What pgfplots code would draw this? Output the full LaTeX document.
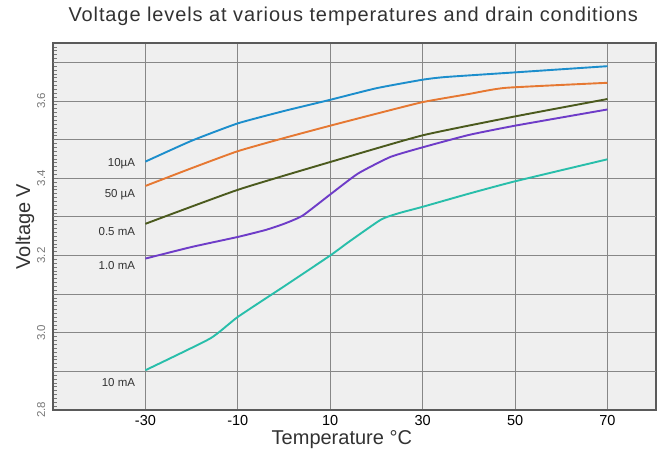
\documentclass[border=0pt]{standalone}
\usepackage{fontspec}
\setmainfont{Liberation Sans}
\usepackage{pgfplots}
\pgfplotsset{compat=1.18}

\definecolor{bggray}{RGB}{239,239,239}
\definecolor{gridgray}{RGB}{135,135,135}
\definecolor{framegray}{RGB}{90,90,90}
\definecolor{tickgray}{RGB}{120,120,120}
\definecolor{txtgray}{RGB}{50,50,50}
\definecolor{cA}{RGB}{28,142,204}
\definecolor{cB}{RGB}{230,120,50}
\definecolor{cC}{RGB}{75,90,30}
\definecolor{cD}{RGB}{110,60,200}
\definecolor{cE}{RGB}{40,190,170}

\tikzset{lbl/.style={anchor=east, font=\fontsize{11.5}{12}\selectfont, text=txtgray, inner sep=0pt}}

\begin{document}
\begin{tikzpicture}
\useasboundingbox (-53pt,-51pt) rectangle (605pt,410pt);
\begin{axis}[
  at={(0pt,0pt)}, anchor=south west,
  scale only axis,
  width=603pt, height=367pt,
  xmin=-50, xmax=80.5,
  ymin=2.8, ymax=3.75,
  axis background/.style={fill=bggray},
  axis line style={draw=framegray, line width=1.2pt},
  grid=major,
  major grid style={draw=gridgray, line width=0.9pt},
  xtick={-30,-10,10,30,50,70},
  xtick style={draw=none},
  ytick={2.8,3.0,3.2,3.4,3.6},
  minor ytick={2.8,2.81,...,3.75},
  ytick pos=left,
  tick align=inside,
  minor tick length=4pt,
  major tick length=5pt,
  ytick style={draw=tickgray, line width=0.7pt},
  extra y ticks={2.9,3.1,3.3,3.5,3.7},
  extra y tick labels={},
  extra y tick style={grid=major},
  /pgf/number format/assume math mode=true,
  xticklabel style={font=\fontsize{14.5}{16}\selectfont, text=black, yshift=-2pt},
  yticklabel style={font=\fontsize{11.5}{12}\selectfont, text=tickgray, rotate=90, anchor=south,
    inner ysep=7.5pt,
    /pgf/number format/.cd, fixed, fixed zerofill, precision=1},
  title={Voltage levels at various temperatures and drain conditions},
  every axis title/.style={at={(0.498,1.0736)}, anchor=center,
    font=\addfontfeature{LetterSpace=4.5}\fontsize{20}{22}\selectfont, text=txtgray},
  xlabel={Temperature °C},
  xlabel style={at={(0.479,-0.0817)}, anchor=center, font=\fontsize{20}{22}\selectfont, text=txtgray},
  ylabel={Voltage V},
  ylabel style={at={(-0.0464,0.5)}, anchor=center, font=\fontsize{20}{22}\selectfont, text=txtgray},
  every axis plot/.append style={line width=1.9pt, smooth, tension=0.3},
]
% 10 uA
\addplot[cA] coordinates {(-30,3.443) (-20,3.497) (-10,3.542) (0,3.574) (10,3.603) (20,3.633) (30,3.655) (35,3.662) (50,3.674) (70,3.690)};
% 50 uA
\addplot[cB] coordinates {(-30,3.380) (-20,3.426) (-10,3.470) (0,3.504) (10,3.536) (20,3.567) (30,3.597) (40,3.618) (48,3.634) (70,3.647)};
% 0.5 mA
\addplot[cC] coordinates {(-30,3.282) (-10,3.370) (10,3.442) (30,3.511) (50,3.560) (70,3.605)};
% 1.0 mA
\addplot[cD] coordinates {(-30,3.192) (-20,3.222) (-10,3.248) (-4,3.266) (0,3.282) (4,3.303) (10,3.358) (16,3.412) (23,3.455) (30,3.480) (40,3.512) (50,3.536) (70,3.578)};
% 10 mA
\addplot[cE] coordinates {(-30,2.903) (-16,2.985) (-10,3.041) (0,3.120) (10,3.200) (14,3.235) (21,3.293) (25,3.310) (30,3.326) (40,3.360) (50,3.392) (70,3.449)};

\node[lbl] at (axis cs:-32.2,3.438) {10µA};
\node[lbl] at (axis cs:-32.2,3.358) {50 µA};
\node[lbl] at (axis cs:-32.2,3.263) {0.5 mA};
\node[lbl] at (axis cs:-32.2,3.175) {1.0 mA};
\node[lbl] at (axis cs:-32.2,2.870) {10 mA};
\end{axis}
\end{tikzpicture}
\end{document}
